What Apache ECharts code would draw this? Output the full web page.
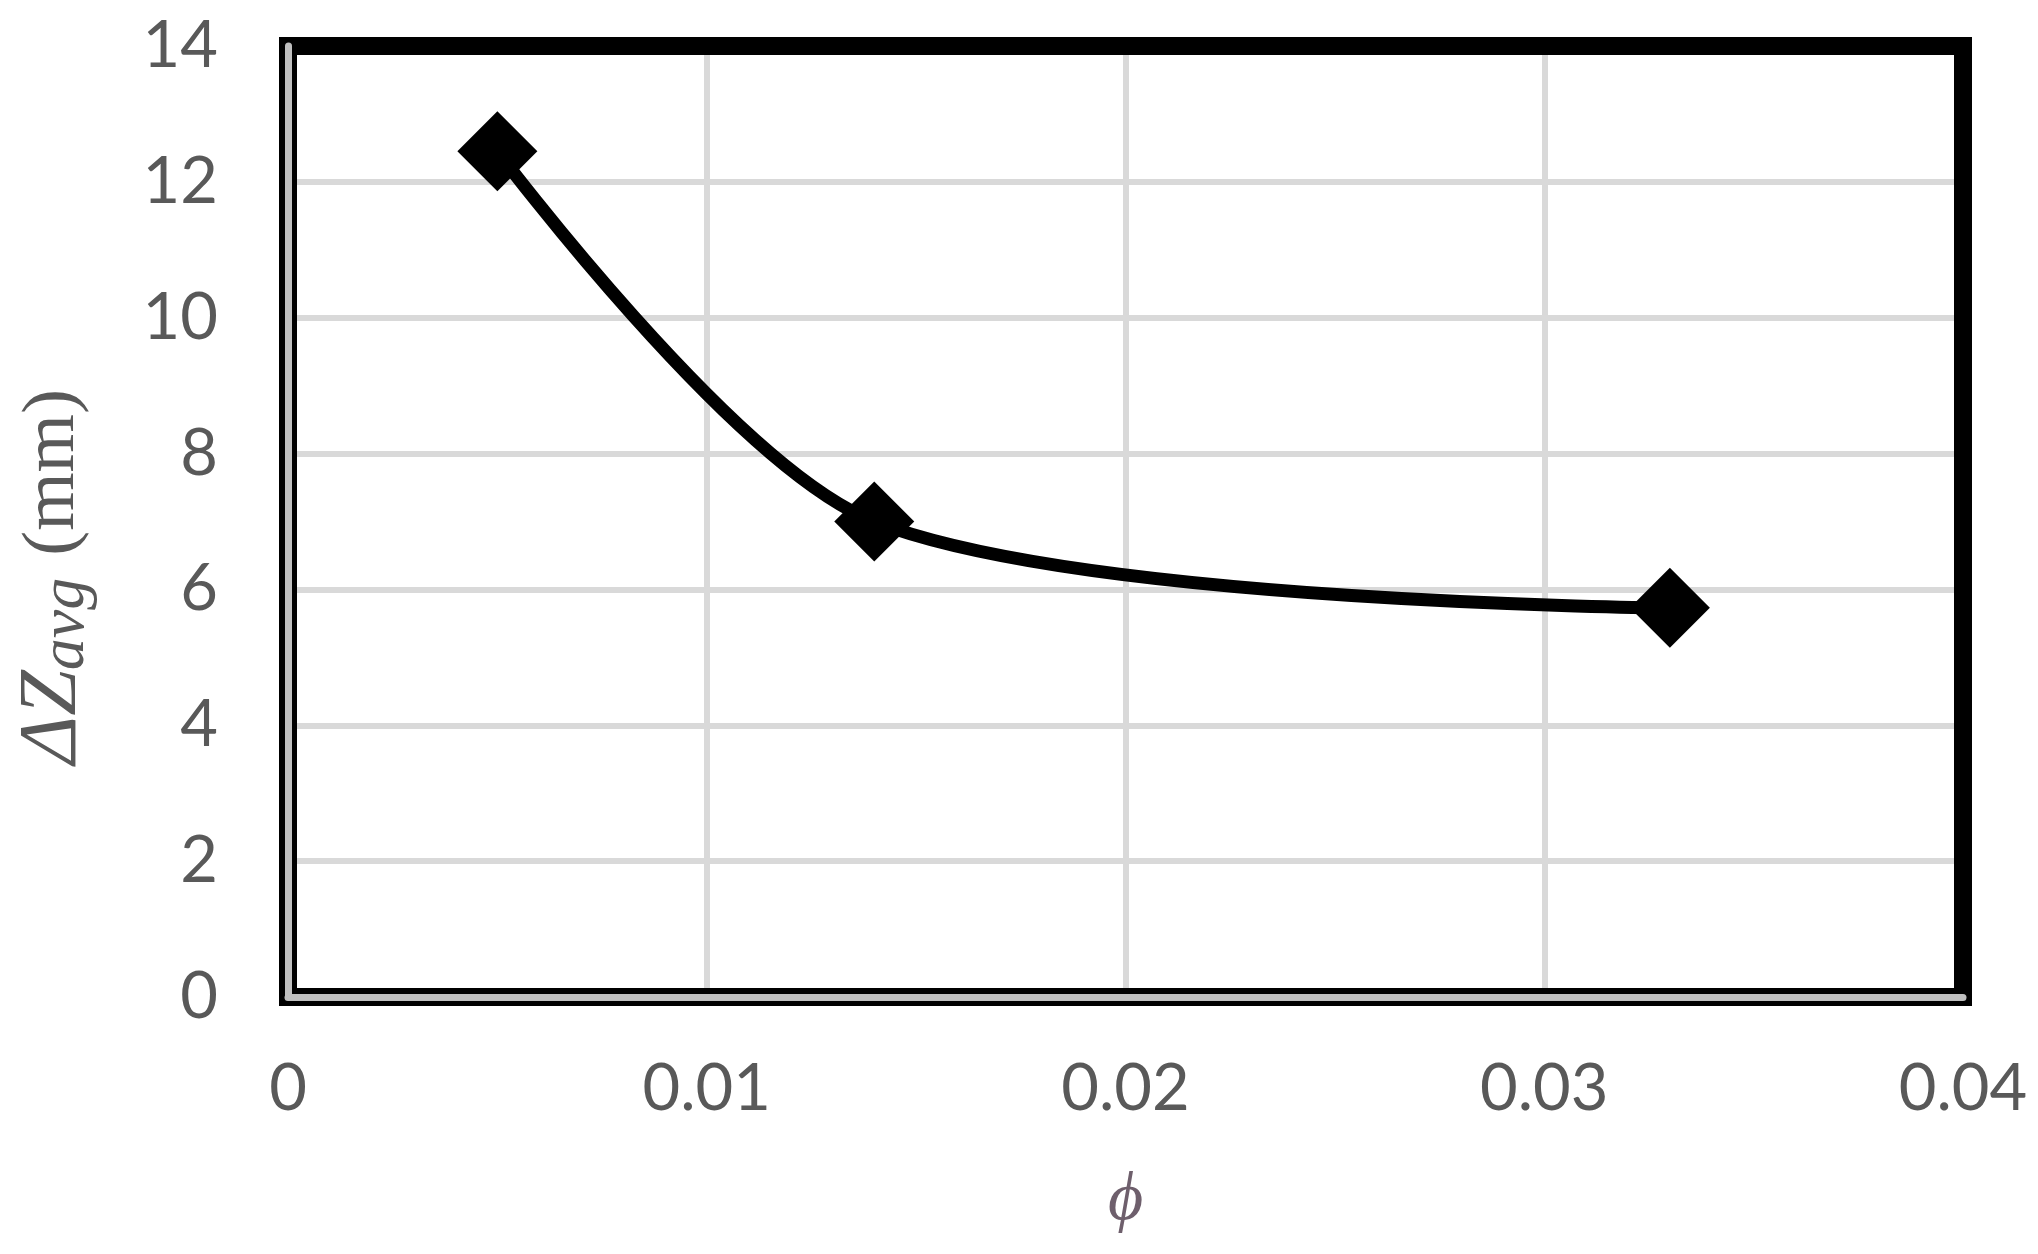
<!DOCTYPE html>
<html>
<head>
<meta charset="utf-8">
<title>Delta Z avg vs phi</title>
<script src="https://cdn.jsdelivr.net/npm/echarts@6/dist/echarts.min.js"></script>
<style>
    html, body { margin: 0; padding: 0; background: #fff; }
    #chart { width: 2038px; height: 1254px; }
</style>
</head>
<body>
<div id="chart"></div>
<script>
// values
var phi = [0.005, 0.014, 0.033];
var dzAvg = [12.45, 7.0, 5.73];
var xTicks = [0, 0.01, 0.02, 0.03, 0.04];
var yTicks = [0, 2, 4, 6, 8, 10, 12, 14];

var points = [];
for (var i = 0; i < phi.length; i++) {
    points.push([phi[i], dzAvg[i]]);
}

var myChart = echarts.init(document.getElementById('chart'));

var labelStyle = {
    color: '#595959',
    fontFamily: 'Lato',
    fontSize: 65
};
var serif = 'Liberation Serif';

// the gray inner line of the frame sits on top of the black border,
// so a second pair of axes only draws that line
var option = {
    backgroundColor: '#fff',
    animation: false,
    grid: {
        left: 288,
        right: 75,
        top: 46,
        bottom: 257,
        show: true,
        z: 1,
        borderColor: '#000',
        borderWidth: 18
    },
    xAxis: [
        {
            type: 'value',
            min: xTicks[0],
            max: xTicks[xTicks.length - 1],
            interval: 0.01,
            z: 0,
            name: '\u03D5',
            nameLocation: 'middle',
            nameGap: 170,
            nameTextStyle: {
                fontFamily: serif,
                fontStyle: 'italic',
                fontSize: 68,
                color: '#6e5f6c'
            },
            axisLine: { show: false },
            axisTick: { show: false },
            axisLabel: Object.assign({ margin: 60 }, labelStyle),
            splitLine: {
                show: true,
                showMinLine: false,
                showMaxLine: false,
                lineStyle: { color: '#d9d9d9', width: 6 }
            }
        },
        {
            type: 'value',
            position: 'bottom',
            min: xTicks[0],
            max: xTicks[xTicks.length - 1],
            z: 2,
            axisLine: { show: true, onZero: false, lineStyle: { color: '#bfbfbf', width: 7 } },
            axisTick: { show: false },
            axisLabel: { show: false },
            splitLine: { show: false }
        }
    ],
    yAxis: [
        {
            type: 'value',
            min: yTicks[0],
            max: yTicks[yTicks.length - 1],
            interval: 2,
            z: 0,
            name: '{d|\u0394Z}{s|avg}{n|(mm)}',
            nameLocation: 'middle',
            nameGap: 190,
            nameRotate: 90,
            nameTextStyle: {
                color: '#595959',
                fontFamily: serif,
                rich: {
                    d: { fontSize: 82, fontStyle: 'italic', fontFamily: serif, color: '#595959', lineHeight: 90, verticalAlign: 'middle' },
                    s: { fontSize: 64, fontStyle: 'italic', fontFamily: serif, color: '#595959', lineHeight: 90, verticalAlign: 'bottom', padding: [0, 22, 0, 0] },
                    n: { fontSize: 75, fontFamily: serif, color: '#595959', lineHeight: 90, verticalAlign: 'middle', padding: [0, 110, 0, 0] }
                }
            },
            axisLine: { show: false },
            axisTick: { show: false },
            axisLabel: Object.assign({ margin: 70 }, labelStyle),
            splitLine: {
                show: true,
                showMinLine: false,
                showMaxLine: false,
                lineStyle: { color: '#d9d9d9', width: 6 }
            }
        },
        {
            type: 'value',
            position: 'left',
            min: yTicks[0],
            max: yTicks[yTicks.length - 1],
            z: 2,
            axisLine: { show: true, onZero: false, lineStyle: { color: '#bfbfbf', width: 7 } },
            axisTick: { show: false },
            axisLabel: { show: false },
            splitLine: { show: false }
        }
    ],
    series: [
        {
            name: 'dZavg',
            type: 'line',
            data: points,
            z: 3,
            smooth: 0.3,
            symbol: 'diamond',
            symbolSize: 80,
            itemStyle: { color: '#000' },
            lineStyle: { color: '#000', width: 13 }
        }
    ]
};

myChart.setOption(option);
</script>
</body>
</html>
